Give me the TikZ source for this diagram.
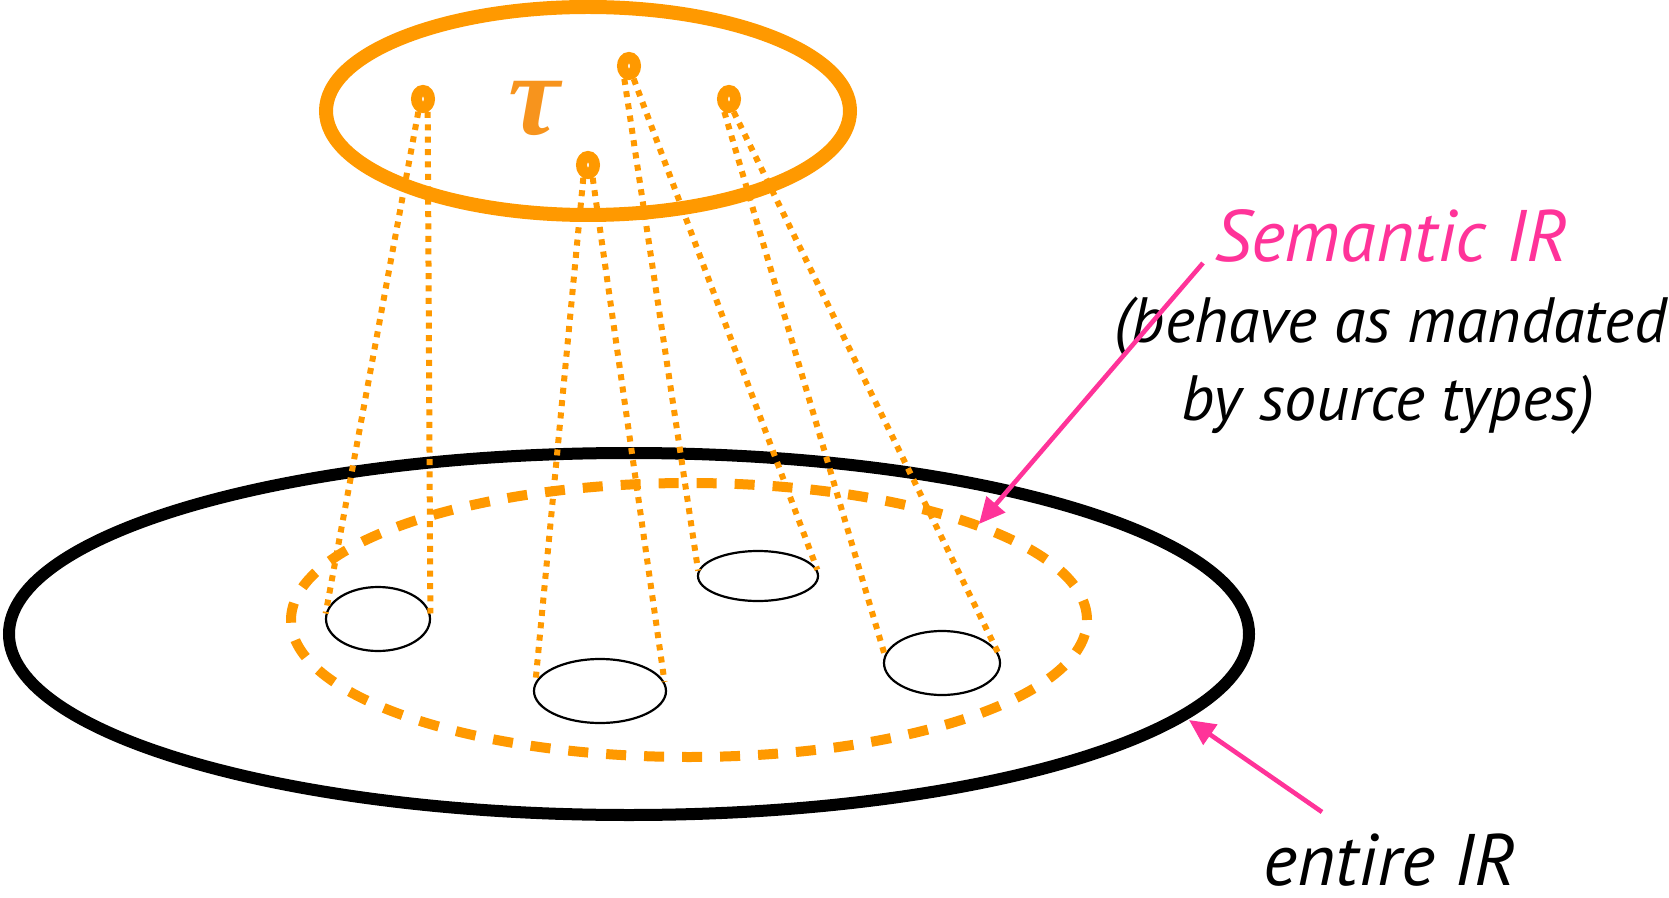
\documentclass[tikz,border=0pt]{standalone}
\usepackage{fontspec}
\setmainfont{PT Sans}
\newfontfamily\taufont{Liberation Serif}
\usetikzlibrary{shapes.geometric,arrows.meta}
\definecolor{orng}{HTML}{FF9900}
\definecolor{tauc}{HTML}{F7941D}
\definecolor{pnk}{HTML}{FF3399}
\begin{document}
\begin{tikzpicture}[x=0.5pt,y=-0.5pt,
  smallell/.style={ellipse, draw=black, line width=1.1pt, fill=white, inner sep=0pt},
  topdot/.style={ellipse, draw=orng, fill=white, line width=5.5pt, inner sep=0pt, minimum width=6.5pt, minimum height=8.5pt},
  orangedots/.style={orng, line width=3pt, dash pattern=on 3pt off 3.2pt},
  pinkarrow/.style={pnk, line width=2.3pt, -{Triangle[length=13pt,width=12pt]}},
  lbl/.style={font=\fontsize{32}{38}\selectfont\itshape, inner sep=0pt, anchor=base},
  biglbl/.style={font=\fontsize{36.5}{42}\selectfont\itshape, inner sep=0pt, anchor=base}
]
\useasboundingbox (0,0) rectangle (1669,898);
% entire IR
\draw[line width=6pt] (629,634) ellipse [x radius=310pt, y radius=90.5pt];
% semantic IR dashed
\draw[orng, line width=5pt, dash pattern=on 10pt off 9pt] (689,620) ellipse [x radius=199pt, y radius=68.5pt];
% tau ellipse
\draw[orng, line width=7pt] (588,111) ellipse [x radius=131pt, y radius=52pt];
\node[text=tauc, inner sep=0pt, font=\taufont\fontsize{58}{62}\selectfont\bfseries\itshape] (tau) at (534,108) {τ};
% small ellipses
\node[smallell, minimum width=52pt, minimum height=32pt] (e1) at (378,619) {};
\node[smallell, minimum width=66pt, minimum height=32pt] (e2) at (600,691) {};
\node[smallell, minimum width=60pt, minimum height=25pt] (e3) at (758,576) {};
\node[smallell, minimum width=58pt, minimum height=32pt] (e4) at (942,663) {};
% dots
\node[topdot] (d1) at (423,99) {};
\node[topdot] (d2) at (629,66) {};
\node[topdot] (d3) at (729,99) {};
\node[topdot] (d4) at (588,165) {};
% dotted connectors
\draw[orangedots] (d1.250) -- (e1.174);
\draw[orangedots] (d1.290) -- (e1.6);
\draw[orangedots] (d4.250) -- (e2.172);
\draw[orangedots] (d4.290) -- (e2.8);
\draw[orangedots] (d2.250) -- (e3.175);
\draw[orangedots] (d2.290) -- (e3.6);
\draw[orangedots] (d3.250) -- (e4.172);
\draw[orangedots] (d3.290) -- (e4.6);
% labels
\node[biglbl, text=pnk] (sem) at (1391,262) {Semantic IR};
\node[lbl] (beh1) at (1391,343) {(behave as mandated};
\node[lbl] (beh2) at (1388,420) {by source types)};
\node[biglbl] (ent) at (1390,885) {entire IR};
% arrows
\coordinate (a1s) at (1203,263);
\coordinate (a1t) at (979,524);
\coordinate (a2s) at (1322,812);
\coordinate (a2t) at (1189,720);
\draw[pinkarrow] (a1s) -- (a1t);
\draw[pinkarrow] (a2s) -- (a2t);
\end{tikzpicture}
\end{document}
